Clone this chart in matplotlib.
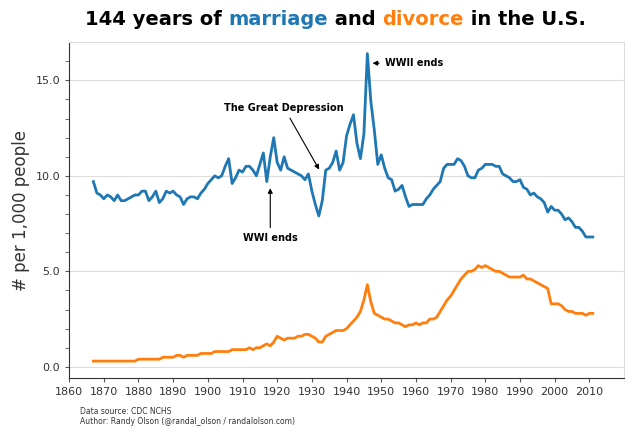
import matplotlib
matplotlib.use("Agg")
import matplotlib.pyplot as plt
import numpy as np

years = list(range(1867, 2012))
marriage = [9.7, 9.1, 9.0, 8.8, 9.0, 8.9, 8.7, 9.0, 8.7, 8.7, 8.8, 8.9, 9.0, 9.0, 9.2, 9.2, 8.7, 8.9, 9.2, 8.6, 8.8, 9.2, 9.1, 9.2, 9.0, 8.9, 8.5, 8.8, 8.9, 8.9, 8.8, 9.1, 9.3, 9.6, 9.8, 10.0, 9.9, 10.0, 10.5, 10.9, 9.6, 9.9, 10.3, 10.2, 10.5, 10.5, 10.3, 10.0, 10.6, 11.2, 9.7, 11.0, 12.0, 10.7, 10.3, 11.0, 10.4, 10.3, 10.2, 10.1, 10.0, 9.8, 10.1, 9.2, 8.5, 7.9, 8.7, 10.3, 10.4, 10.7, 11.3, 10.3, 10.7, 12.1, 12.7, 13.2, 11.7, 10.9, 12.2, 16.4, 13.9, 12.4, 10.6, 11.1, 10.4, 9.9, 9.8, 9.2, 9.3, 9.5, 8.9, 8.4, 8.5, 8.5, 8.5, 8.5, 8.8, 9.0, 9.3, 9.5, 9.7, 10.4, 10.6, 10.6, 10.6, 10.9, 10.8, 10.5, 10.0, 9.9, 9.9, 10.3, 10.4, 10.6, 10.6, 10.6, 10.5, 10.5, 10.1, 10.0, 9.9, 9.7, 9.7, 9.8, 9.4, 9.3, 9.0, 9.1, 8.9, 8.8, 8.6, 8.1, 8.4, 8.2, 8.2, 8.0, 7.7, 7.8, 7.6, 7.3, 7.3, 7.1, 6.8, 6.8, 6.8]
divorce = [0.3]*13 + [0.4]*7 + [0.5, 0.5, 0.5, 0.5, 0.6, 0.6, 0.5, 0.6, 0.6, 0.6, 0.6, 0.7, 0.7, 0.7, 0.7, 0.8, 0.8, 0.8, 0.8, 0.8, 0.9, 0.9, 0.9, 0.9, 0.9, 1.0, 0.9, 1.0, 1.0, 1.1, 1.2, 1.1, 1.3, 1.6, 1.5, 1.4, 1.5, 1.5, 1.5, 1.6, 1.6, 1.7, 1.7, 1.6, 1.5, 1.3, 1.3, 1.6, 1.7, 1.8, 1.9, 1.9, 1.9, 2.0, 2.2, 2.4, 2.6, 2.9, 3.5, 4.3, 3.4, 2.8, 2.7, 2.6, 2.5, 2.5, 2.4, 2.3, 2.3, 2.2, 2.1, 2.2, 2.2, 2.3, 2.2, 2.3, 2.3, 2.5, 2.5, 2.6, 2.9, 3.2, 3.5, 3.7, 4.0, 4.3, 4.6, 4.8, 5.0, 5.0, 5.1, 5.3, 5.2, 5.3, 5.2, 5.1, 5.0, 5.0, 4.9, 4.8, 4.7, 4.7, 4.7, 4.7, 4.8, 4.6, 4.6, 4.5, 4.4, 4.3, 4.2, 4.1, 3.3, 3.3, 3.3, 3.2, 3.0, 2.9, 2.9, 2.8, 2.8, 2.8, 2.7, 2.8, 2.8]
xticks = list(range(1860, 2011, 10))
yticks = [0.0, 5.0, 10.0, 15.0]

blue = "#1f77b4"
orange = "#ff7f0e"

fig = plt.figure(figsize=(6.4, 4.44), dpi=100)
ax = fig.add_axes([0.108, 0.148, 0.867, 0.757])
ax.plot(years, marriage, color=blue, lw=2)
ax.plot(years, divorce, color=orange, lw=2)
ax.set_xlim(1860, 2020)
ax.set_ylim(-0.6, 17.0)
ax.set_xticks(xticks)
ax.set_xticklabels([str(x) for x in xticks], fontsize=8, color="#333333")
ax.set_yticks(yticks)
ax.set_yticklabels([f"{y:.1f}" for y in yticks], fontsize=8, color="#333333")
ax.set_yticks(np.arange(0, 17, 1), minor=True)
ax.tick_params(which="both", direction="out", length=3, color="#555555")
ax.tick_params(axis="x", which="both", top=False)
ax.tick_params(axis="y", which="both", right=False)
for y in yticks:
    ax.axhline(y, color="#dddddd", lw=0.8, zorder=0)
for s in ["top", "right"]:
    ax.spines[s].set_color("#dddddd")
for s in ["left", "bottom"]:
    ax.spines[s].set_color("#333333")
ax.set_ylabel("# per 1,000 people", fontsize=12, color="#333333")

ax.annotate("WWII ends", xy=(1946.7, 15.9), xytext=(1951, 15.9), fontsize=7, fontweight="bold",
            va="center", arrowprops=dict(arrowstyle="-|>", color="black", lw=0.8))
ax.annotate("The Great Depression", xy=(1932.5, 10.2), xytext=(1922, 13.4), fontsize=7, fontweight="bold",
            ha="center", arrowprops=dict(arrowstyle="-|>", color="black", lw=0.8))
ax.annotate("WWI ends", xy=(1918, 9.5), xytext=(1918, 7.0), fontsize=7, fontweight="bold",
            ha="center", va="top", arrowprops=dict(arrowstyle="-|>", color="black", lw=0.8))

parts = [("144 years of ", "black"), ("marriage", blue), (" and ", "black"), ("divorce", orange), (" in the U.S.", "black")]
fig.canvas.draw()
r = fig.canvas.get_renderer()
texts = []
total = 0
for s, c in parts:
    t = fig.text(0, 0.935, s, fontsize=14, fontweight="bold", color=c, va="bottom")
    w = t.get_window_extent(r).width
    texts.append((t, w))
    total += w
x = (640 - total) / 2 + 15
for t, w in texts:
    t.set_x(x / 640)
    x += w

fig.text(0.125, 0.068, "Data source: CDC NCHS", fontsize=5.5, color="#333333")
fig.text(0.125, 0.045, "Author: Randy Olson (@randal_olson / randalolson.com)", fontsize=5.5, color="#333333")
fig.savefig("out.png", dpi=100)
